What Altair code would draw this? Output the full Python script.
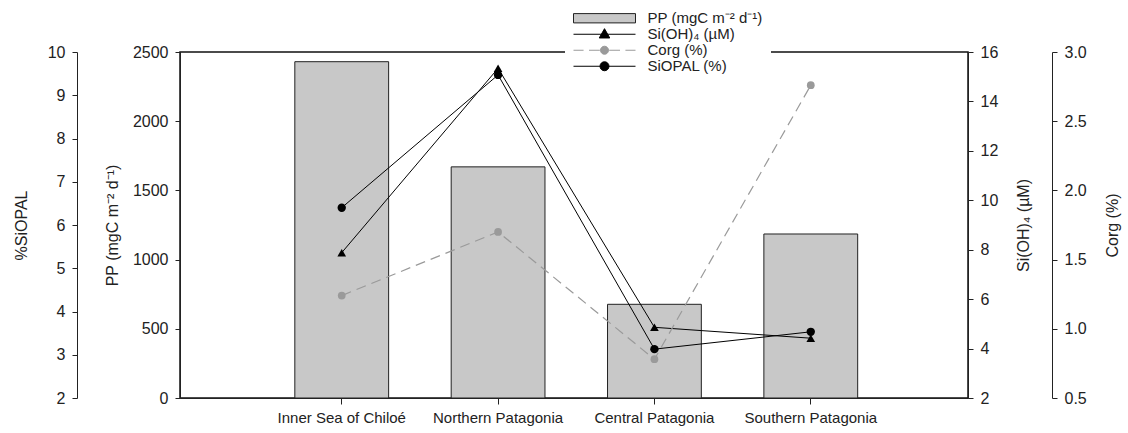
import altair as alt
import pandas as pd

# ---- data ----
regions = ["Inner Sea of Chiloé", "Northern Patagonia", "Central Patagonia", "Southern Patagonia"]
pp = [2430, 1670, 677, 1185]            # PP (mgC m-2 d-1), bars, left inner axis
si_opal = [6.40, 9.47, 3.13, 3.53]      # %SiOPAL, left outer axis
sioh4 = [7.88, 15.34, 4.86, 4.42]       # Si(OH)4 (uM), right inner axis
corg = [1.24, 1.70, 0.78, 2.76]         # Corg (%), right outer axis

pp_ticks = [0, 500, 1000, 1500, 2000, 2500]
siopal_ticks = [2, 3, 4, 5, 6, 7, 8, 9, 10]
sioh4_ticks = [2, 4, 6, 8, 10, 12, 14, 16]
corg_ticks = [0.5, 1.0, 1.5, 2.0, 2.5, 3.0]

legend_labels = ["PP (mgC m\u207b\u00b2 d\u207b\u00b9)", "Si(OH)\u2084 (\u00b5M)", "Corg (%)", "SiOPAL (%)"]
legend_fill = ["#c8c8c8", "#000000", "#9a9a9a", "#000000"]
legend_stroke = ["#222222", "#000000", "#9a9a9a", "#000000"]
legend_paths = [
    "M-2,-0.3H2V0.3H-2Z",
    "M-2,0H2M0,-0.36L0.34,0.24L-0.34,0.24Z",
    "M-2,0H-1.35M-1.0,0H-0.3M0.3,0H1.0M1.35,0H2M0.26,0A0.26,0.26 0 1,1 -0.26,0A0.26,0.26 0 1,1 0.26,0Z",
    "M-2,0H2M0.29,0A0.29,0.29 0 1,1 -0.29,0A0.29,0.29 0 1,1 0.29,0Z",
]

df = pd.DataFrame({"region": regions, "pp": pp, "siopal": si_opal, "sioh4": sioh4, "corg": corg})
leg_df = pd.DataFrame({"series": legend_labels})

FONT = "Liberation Sans"
TXT = "#222222"

xenc = alt.X(
    "region:N",
    sort=regions,
    scale=alt.Scale(paddingInner=0.4, paddingOuter=0.72, align=0.51),
    axis=alt.Axis(title=None, labelAngle=0, labelFontSize=15, labelFont=FONT, labelColor=TXT,
                  domainColor="#222", tickColor="#222", tickSize=6, labelPadding=6, bandPosition=0.5),
)

def yaxis(title, values, orient, offset, fmt=None, tpad=12, baseline=None):
    kw = dict(title=title, values=values, orient=orient, offset=offset, grid=False,
              labelFontSize=16, labelFont=FONT, labelColor=TXT,
              titleFontSize=16, titleFont=FONT, titleColor=TXT, titleFontWeight="normal",
              titleAngle=270, titlePadding=tpad,
              domainColor="#222", tickColor="#222", tickSize=5, labelPadding=7)
    if fmt:
        kw["format"] = fmt
    if baseline:
        kw["titleBaseline"] = baseline
    return alt.Axis(**kw)

bars = alt.Chart(df).mark_bar(fill="#c8c8c8", stroke="#222222", strokeWidth=1).encode(
    x=xenc,
    y=alt.Y("pp:Q", scale=alt.Scale(domain=[0, 2500], nice=False),
            axis=yaxis("PP (mgC m\u207b\u00b2 d\u207b\u00b9)", pp_ticks, "left", 0, fmt="d")),
)

siopal_line = alt.Chart(df).mark_line(
    color="#000000", strokeWidth=1,
    point=alt.OverlayMarkDef(shape="circle", filled=True, color="#000000", size=70, opacity=1),
).encode(
    x=xenc,
    y=alt.Y("siopal:Q", scale=alt.Scale(domain=[2, 10], nice=False),
            axis=yaxis("%SiOPAL", siopal_ticks, "left", 103, tpad=18)),
)

sioh4_line = alt.Chart(df).mark_line(
    color="#000000", strokeWidth=1,
    point=alt.OverlayMarkDef(shape="triangle-up", filled=True, color="#000000", size=75, opacity=1),
).encode(
    x=xenc,
    y=alt.Y("sioh4:Q", scale=alt.Scale(domain=[2, 16], nice=False),
            axis=yaxis("Si(OH)\u2084 (\u00b5M)", sioh4_ticks, "right", 0, tpad=18, baseline="top")),
)

corg_line = alt.Chart(df).mark_line(
    color="#9a9a9a", strokeWidth=1.2, strokeDash=[10, 6],
    point=alt.OverlayMarkDef(shape="circle", filled=True, color="#9a9a9a", size=60, opacity=1),
).encode(
    x=xenc,
    y=alt.Y("corg:Q", scale=alt.Scale(domain=[0.5, 3.0], nice=False),
            axis=yaxis("Corg (%)", corg_ticks, "right", 84, fmt=".1f", tpad=18, baseline="top")),
)

legend_layer = alt.Chart(leg_df).mark_point(filled=True, opacity=0).encode(
    shape=alt.Shape("series:N", scale=alt.Scale(domain=legend_labels, range=legend_paths),
                    legend=alt.Legend(title=None, orient="none", legendX=385, legendY=-49,
                                      symbolSize=961, symbolOffset=15.5, labelOffset=27,
                                      labelFontSize=15, labelFont=FONT, labelColor=TXT,
                                      fillColor="white", padding=8, rowPadding=0, clipHeight=14.5,
                                      symbolOpacity=1, symbolStrokeWidth=1)),
    fill=alt.Fill("series:N", scale=alt.Scale(domain=legend_labels, range=legend_fill)),
    stroke=alt.Stroke("series:N", scale=alt.Scale(domain=legend_labels, range=legend_stroke)),
)

chart = alt.layer(bars, siopal_line, sioh4_line, corg_line, legend_layer).resolve_scale(
    y="independent"
).properties(
    width=788, height=346,
    autosize=alt.AutoSizeParams(type="none"),
    padding={"left": 180, "top": 52, "right": 160, "bottom": 35},
    background="white",
).configure_view(stroke="#111111", strokeWidth=1.5)

chart.save("out.html", embed_options={"renderer": "svg", "actions": False})
